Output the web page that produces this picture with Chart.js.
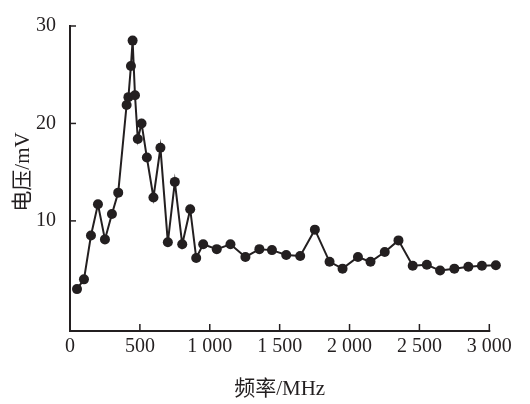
<!DOCTYPE html>
<html>
<head>
<meta charset="utf-8">
<script src="https://cdn.jsdelivr.net/npm/chart.js@4/dist/chart.umd.min.js"></script>
<style>
html,body{margin:0;padding:0;background:#fff;}
#wrap{width:530px;height:404px;}
</style>
</head>
<body>
<div id="wrap"><canvas id="c" width="530" height="404"></canvas></div>
<script>
// Data
const frequencies = [50,100,150,200,250,300,345,405,418,436,448,465,485,512,550,597,647,700,750,803,860,903,953,1050,1148,1255,1355,1445,1547,1647,1752,1857,1950,2060,2150,2252,2350,2452,2553,2648,2750,2850,2947,3047];
const voltages = [3.0,4.0,8.5,11.7,8.1,10.7,12.9,21.9,22.7,25.9,28.5,22.9,18.4,20.0,16.5,12.4,17.5,7.8,14.0,7.6,11.2,6.2,7.6,7.1,7.6,6.3,7.1,7.0,6.5,6.4,9.1,5.8,5.1,6.3,5.8,6.8,8.0,5.4,5.5,4.9,5.1,5.3,5.4,5.45];
const xTickValues = [0,500,1000,1500,2000,2500,3000];
const xTickLabels = ['0','500','1 000','1 500','2 000','2 500','3 000'];
const yTickValues = [10,20,30];
const yTickLabels = ['10','20','30'];
const xTitle = '频率/MHz';
const yTitle = '电压/mV';

const INK = '#231f20';
const FONT = '"Liberation Serif","Noto Sans CJK SC",serif';

const points = frequencies.map((f, i) => ({x: f, y: voltages[i]}));

const decor = {
  id: 'decor',
  beforeDatasetsDraw(chart) {
    const ctx = chart.ctx;
    const xs = chart.scales.x, ys = chart.scales.y;
    const area = chart.chartArea;
    ctx.save();
    ctx.strokeStyle = INK;
    // x axis line from 0 to 3000
    ctx.lineWidth = 2;
    ctx.beginPath();
    ctx.moveTo(area.left - 1, area.bottom);
    ctx.lineTo(xs.getPixelForValue(xTickValues[xTickValues.length - 1]) + 1, area.bottom);
    ctx.stroke();
    ctx.lineWidth = 1.5;
    // inward tick marks
    xTickValues.forEach(v => {
      if (v === 0) return;
      const px = xs.getPixelForValue(v);
      ctx.beginPath();
      ctx.moveTo(px, area.bottom);
      ctx.lineTo(px, area.bottom - 7);
      ctx.stroke();
    });
    yTickValues.forEach(v => {
      const py = ys.getPixelForValue(v);
      ctx.beginPath();
      ctx.moveTo(area.left, py);
      ctx.lineTo(area.left + 6, py);
      ctx.stroke();
    });
    // axis titles
    ctx.fillStyle = INK;
    ctx.font = '21px ' + FONT;
    ctx.textAlign = 'center';
    ctx.textBaseline = 'middle';
    ctx.fillText(xTitle, (area.left + xs.getPixelForValue(3000)) / 2, 389);
    ctx.translate(23, 172);
    ctx.rotate(-Math.PI / 2);
    ctx.fillText(yTitle, 0, 0);
    ctx.restore();
  }
};

new Chart(document.getElementById('c'), {
  type: 'line',
  data: {
    datasets: [{
      data: points,
      borderColor: INK,
      backgroundColor: INK,
      borderWidth: 2,
      pointRadius: 5,
      pointHoverRadius: 5,
      pointBorderWidth: 0,
      tension: 0,
      clip: false
    }]
  },
  options: {
    responsive: false,
    animation: false,
    events: [],
    layout: { padding: { left: 0, right: 33.7, top: 14.3, bottom: 0 } },
    plugins: { legend: { display: false }, tooltip: { enabled: false } },
    scales: {
      x: {
        type: 'linear',
        min: 0,
        max: 3050,
        afterFit(s) { s.height = 73; },
        afterBuildTicks(s) { s.ticks = xTickValues.map(v => ({value: v})); },
        grid: { color: 'transparent', drawTicks: false, drawOnChartArea: false },
        border: { display: false },
        ticks: {
          padding: 4,
          maxRotation: 0,
          autoSkip: false,
          color: INK,
          font: { family: FONT, size: 20 },
          callback: (v) => { const i = xTickValues.indexOf(v); return i >= 0 ? xTickLabels[i] : ''; }
        }
      },
      y: {
        type: 'linear',
        min: -1.3,
        max: 30,
        afterFit(s) { s.width = 70; },
        afterBuildTicks(s) { s.ticks = yTickValues.map(v => ({value: v})); },
        grid: { color: 'transparent', drawTicks: false, drawOnChartArea: false },
        border: { display: true, color: INK, width: 2 },
        ticks: {
          padding: 14,
          autoSkip: false,
          color: INK,
          font: { family: FONT, size: 20 },
          callback: (v) => { const i = yTickValues.indexOf(v); return i >= 0 ? yTickLabels[i] : ''; }
        }
      }
    }
  },
  plugins: [decor]
});
</script>
</body>
</html>
